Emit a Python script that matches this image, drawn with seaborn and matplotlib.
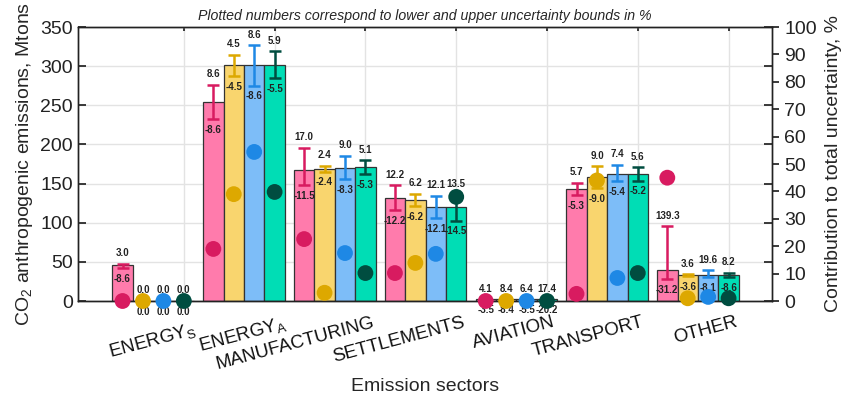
import matplotlib
matplotlib.use('Agg')
import matplotlib.pyplot as plt
import matplotlib.transforms as mtransforms
import numpy as np
import pandas as pd
import seaborn as sns

# sectors and the four cases (pink, yellow, blue, green)
sectors = ['ENERGY_S', 'ENERGY_A', 'MANUFACTURING', 'SETTLEMENTS', 'AVIATION', 'TRANSPORT', 'OTHER']
sector_labels = ['ENERGY$_\\mathregular{S}$', 'ENERGY$_\\mathregular{A}$', 'MANUFACTURING',
                 'SETTLEMENTS', 'AVIATION', 'TRANSPORT', 'OTHER']
cases = ['case1', 'case2', 'case3', 'case4']

# CO2 emissions, Mtons
emis_case1 = [46, 254, 167, 132, 2, 143, 40]
emis_case2 = [0, 301, 169, 129, 2, 158, 33]
emis_case3 = [0, 301, 170, 120, 2, 162, 33]
emis_case4 = [0, 301, 171, 120, 2, 162, 33]

# upper / lower uncertainty bounds, %
upper_case1 = [3.0, 8.6, 17.0, 12.2, 4.1, 5.7, 139.3]
lower_case1 = [-8.6, -8.6, -11.5, -12.2, -3.5, -5.3, -31.2]
upper_case2 = [0.0, 4.5, 2.4, 6.2, 8.4, 9.0, 3.6]
lower_case2 = [0.0, -4.5, -2.4, -6.2, -8.4, -9.0, -3.6]
upper_case3 = [0.0, 8.6, 9.0, 12.1, 6.4, 7.4, 19.6]
lower_case3 = [0.0, -8.6, -8.3, -12.1, -5.5, -5.4, -8.1]
upper_case4 = [0.0, 5.9, 5.1, 13.5, 17.4, 5.6, 8.2]
lower_case4 = [0.0, -5.5, -5.3, -14.5, -20.2, -5.2, -8.6]

# contribution to total uncertainty, %
contrib_case1 = [0, 19.0, 22.6, 10.2, 0, 2.6, 45.0]
contrib_case2 = [0, 39.0, 3.0, 13.9, 0, 44.0, 1.0]
contrib_case3 = [0, 54.4, 17.5, 17.2, 0, 8.4, 1.5]
contrib_case4 = [0, 39.8, 10.2, 38.0, 0, 10.2, 1.0]

fill_colors = ['#FF7BAC', '#F9D56E', '#7DBDF8', '#00DDB5']
mark_colors = ['#D81B60', '#DDA800', '#1E88E5', '#004D40']

emis = [emis_case1, emis_case2, emis_case3, emis_case4]
uppers = [upper_case1, upper_case2, upper_case3, upper_case4]
lowers = [lower_case1, lower_case2, lower_case3, lower_case4]
contribs = [contrib_case1, contrib_case2, contrib_case3, contrib_case4]

df = pd.DataFrame({
    'sector': np.tile(sectors, len(cases)),
    'case': np.repeat(cases, len(sectors)),
    'emission': np.concatenate(emis),
})

sns.set_theme(style='white')
plt.rcParams['font.family'] = ['Liberation Sans', 'DejaVu Sans']

fig, ax = plt.subplots(figsize=(8.46, 4.0), dpi=100)
fig.subplots_adjust(left=0.092, right=0.913, top=0.9325, bottom=0.2475)

sns.barplot(data=df, x='sector', y='emission', hue='case', order=sectors, hue_order=cases,
            palette=fill_colors, width=0.9, edgecolor='#333333', linewidth=0.9,
            saturation=1, legend=False, ax=ax, zorder=2)

ax2 = ax.twinx()

bar_containers = list(ax.containers)
for k, container in enumerate(bar_containers):
    xs = np.array([p.get_x() + p.get_width() / 2 for p in container.patches])
    vals = np.array(emis[k], dtype=float)
    up = np.array(uppers[k])
    lo = np.array(lowers[k])
    y_up = vals * (1 + up / 100)
    y_lo = vals * (1 + lo / 100)
    ax.errorbar(xs, vals, yerr=[vals - y_lo, y_up - vals], fmt='none', ecolor=mark_colors[k],
                elinewidth=1.8, capsize=4, capthick=1.8, zorder=3)
    for x, yu, yl, u, l in zip(xs, y_up, y_lo, up, lo):
        ax.annotate(f'{u:.1f}', (x, yu), xytext=(0, 4), textcoords='offset points',
                    ha='center', va='bottom', fontsize=7, fontweight='bold', color='#222222', zorder=4)
        ax.annotate(f'{l:.1f}', (x, yl), xytext=(0, -4), textcoords='offset points',
                    ha='center', va='top', fontsize=7, fontweight='bold', color='#222222', zorder=4,
                    annotation_clip=False)
    ax2.scatter(xs, contribs[k], s=130, color=mark_colors[k], edgecolor='none', zorder=5, clip_on=False)

# gnuplot-like x tics sit on the last bar of every cluster
tick_pos = np.arange(len(sectors)) + 0.3375
ax.set_xlim(-0.83, 6.82)
ax.set_xticks(tick_pos)
ax.set_xticklabels([''] * len(sectors))

# rotated sector names, right end hooked just past each tic
label_trans = mtransforms.blended_transform_factory(ax.transData, ax.transAxes)
label_shift = [(9, 19), (9, 13), (7, 13), (6, 13), (5, 13), (4, 13), (6, 13)]
for pos, text, (dx, dy) in zip(tick_pos, sector_labels, label_shift):
    ax.text(pos, 0, text, fontsize=13.5, color='#111111', rotation=15, ha='right', va='top',
            rotation_mode='anchor',
            transform=label_trans + mtransforms.ScaledTranslation(dx / 100, -dy / 100, fig.dpi_scale_trans))

ax.set_ylim(0, 350)
ax.set_yticks(range(0, 351, 50))
ax.tick_params(axis='y', direction='in', length=6, right=True, labelsize=14, colors='#222222')
ax.tick_params(axis='x', direction='in', length=3, top=True, colors='#222222')
ax.grid(True, color='#E3E3E3', linewidth=1, zorder=0)
ax.set_axisbelow(True)

ax2.set_ylim(0, 100)
ax2.set_yticks(range(0, 101, 10))
ax2.tick_params(axis='y', direction='out', length=5, labelsize=14, colors='#222222')
ax2.grid(False)

for a in (ax, ax2):
    for s in a.spines.values():
        s.set_color('#222222')
        s.set_linewidth(1)

ax.set_xlabel('Emission sectors', fontsize=14)
ax.xaxis.set_label_coords(0.5, -0.28)
ax.set_ylabel('CO$_\\mathregular{2}$ anthropogenic emissions, Mtons', fontsize=14, labelpad=4)
ax2.set_ylabel('Contribution to total uncertainty, %', fontsize=14, labelpad=6)
ax.set_title('Plotted numbers correspond to lower and upper uncertainty bounds in %',
             fontsize=10.2, style='italic', pad=5)

fig.savefig('out.png', dpi=100)
